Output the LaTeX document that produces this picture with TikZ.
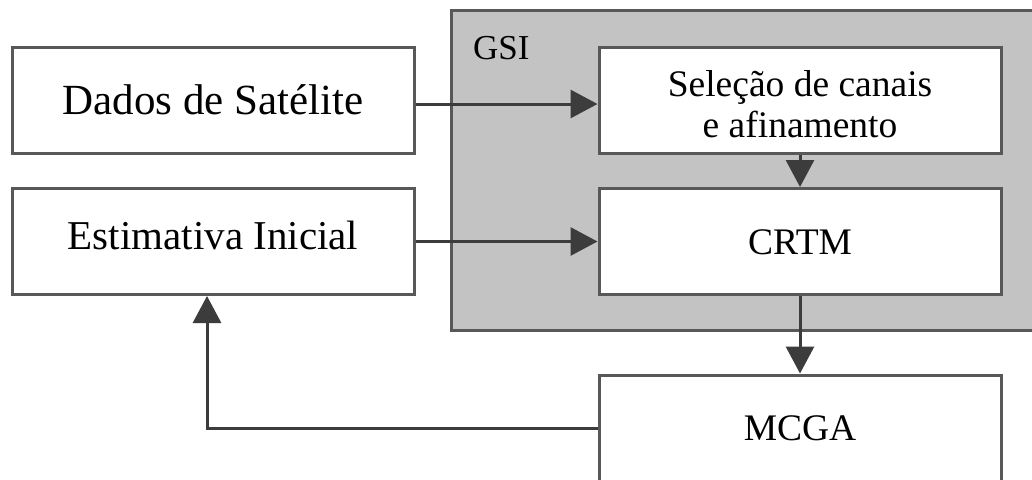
\documentclass[tikz,border=0pt]{standalone}
\usepackage{fontspec}
\setmainfont{Liberation Serif}
\usetikzlibrary{arrows.meta,calc}
\definecolor{boxline}{HTML}{585858}
\definecolor{arrline}{HTML}{3C3C3C}
\definecolor{gsifill}{HTML}{C3C3C3}
\begin{document}
\begin{tikzpicture}[x=1pt,y=-1pt,
  blk/.style={draw=boxline, line width=3pt, fill=white, minimum width=402pt, minimum height=106pt, inner sep=0pt, align=center, text depth=0pt},
  big/.style={font=\fontsize{43}{50}\selectfont, text height=29pt},
  small/.style={font=\fontsize{37.5}{41}\selectfont, text height=25.5pt},
  conn/.style={draw=arrline, line width=3pt, -{Triangle[length=27pt,width=28pt]}},
  group/.style={draw=boxline, line width=3pt, fill=gsifill}]
\useasboundingbox (0,0) rectangle (1032,479);
\fill[white] (0,0) rectangle (1032,479);
\draw[group] (451,10) rectangle (1060,330);
\node[font=\fontsize{35}{40}\selectfont, anchor=base west, inner sep=0pt] (gsilabel) at (473,59) {GSI};
\node[blk, big] (dados) at (213,100) {Dados de Satélite};
\node[blk, font=\fontsize{41}{48}\selectfont, text height=28pt, text depth=12pt] (estim) at (213,241.5) {Estimativa Inicial};
\node[blk, small, text height=75.5pt] (sel) at (800,100) {Seleção de canais\\e afinamento};
\node[blk, small] (crtm) at (800,241.5) {CRTM};
\node[blk, small] (mcga) at (800,428) {MCGA};
\draw[conn] ($(dados.east)+(0,4)$) -- ($(sel.west)+(0,4)$);
\draw[conn] (estim.east) -- (crtm.west);
\draw[conn] (sel.south) -- (crtm.north);
\draw[conn] (crtm.south) -- (mcga.north);
\draw[conn] (mcga.west) -| ($(estim.south)+(-6,0)$);
\end{tikzpicture}
\end{document}
